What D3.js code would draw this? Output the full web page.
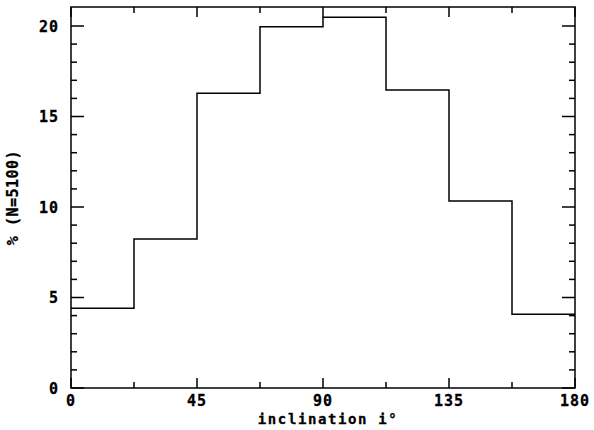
<!DOCTYPE html>
<html><head><meta charset="utf-8">
<script src="https://cdn.jsdelivr.net/npm/d3@7/dist/d3.min.js"></script>
<style>body{margin:0;background:#fff}svg{display:block}</style>
</head><body><div id="c"></div>
<script>
const binStarts = [0, 22.5, 45, 67.5, 90, 112.5, 135, 157.5];
const binWidth = 22.5;
const percents = [4.40, 8.23, 16.28, 19.96, 20.48, 16.46, 10.33, 4.07];
const xTickLabels = [0, 45, 90, 135, 180];
const yTickLabels = [0, 5, 10, 15, 20];
const xLabel = "inclination i\u00B0";
const yLabel = "% (N=5100)";

const W = 594, H = 430;
const m = {left: 71, right: 19, top: 7, bottom: 42};
const iw = W - m.left - m.right, ih = H - m.top - m.bottom;
const svg = d3.select("#c").append("svg").attr("width", W).attr("height", H);
const g = svg.append("g").attr("transform", `translate(${m.left},${m.top})`);

const x = d3.scaleLinear().domain([0, 180]).range([0, iw]);
const y = d3.scaleLinear().domain([0, 21.05]).range([ih, 0]);

const font = "'DejaVu Sans Mono', monospace";

const xMinor = d3.range(0, 180.01, 22.5);
const yMinor = d3.range(0, 21, 1);
function tickLines(sel, vals, isMajor, orient) {
  vals.forEach(v => {
    const maj = isMajor(v);
    let x1, y1, x2, y2;
    if (orient === "bottom") { const L = maj ? 10 : 6; x1 = x2 = x(v); y1 = ih; y2 = ih - L; }
    if (orient === "top") { const L = maj ? 10 : 6; x1 = x2 = x(v); y1 = 0; y2 = L; }
    if (orient === "left") { const L = maj ? 13 : 6; y1 = y2 = y(v); x1 = 0; x2 = L; }
    if (orient === "right") { const L = maj ? 13 : 6; y1 = y2 = y(v); x1 = iw; x2 = iw - L; }
    sel.append("line").attr("x1", x1).attr("y1", y1).attr("x2", x2).attr("y2", y2)
      .attr("stroke", "#000").attr("stroke-width", 1.5);
  });
}
const isMajX = v => xTickLabels.includes(v);
const isMajY = v => yTickLabels.includes(v);
tickLines(g, xMinor, isMajX, "bottom");
tickLines(g, xMinor, isMajX, "top");
tickLines(g, yMinor, isMajY, "left");
tickLines(g, yMinor, isMajY, "right");

// histogram step outline
const pts = [];
binStarts.forEach((s, i) => { pts.push([s, percents[i]]); pts.push([s + binWidth, percents[i]]); });
const line = d3.line().x(d => x(d[0])).y(d => y(d[1]));
g.append("path").attr("d", line(pts)).attr("fill", "none").attr("stroke", "#000").attr("stroke-width", 1.5);

// frame
g.append("rect").attr("width", iw).attr("height", ih).attr("fill", "none").attr("stroke", "#000").attr("stroke-width", 1.5);

const txt = s => s.attr("font-family", font).attr("font-weight", "bold")
  .attr("stroke", "#000").attr("stroke-width", 0.3).attr("fill", "#000");

txt(g.selectAll(".xl").data(xTickLabels).enter().append("text")
  .attr("x", d => x(d)).attr("y", ih + 18).attr("text-anchor", "middle")
  .attr("font-size", 15).attr("letter-spacing", 1)
  .text(d => d));
txt(g.selectAll(".yl").data(yTickLabels).enter().append("text")
  .attr("x", -12).attr("y", d => y(d) + 5.5).attr("text-anchor", "end")
  .attr("font-size", 15).attr("letter-spacing", 1)
  .text(d => d));

txt(svg.append("text").attr("x", m.left + iw / 2 + 5).attr("y", 424).attr("text-anchor", "middle")
  .attr("font-size", 14).attr("letter-spacing", 1.6)
  .text(xLabel));
txt(svg.append("text").attr("transform", `translate(18,${m.top + ih / 2}) rotate(-90)`).attr("text-anchor", "middle")
  .attr("font-size", 15).attr("letter-spacing", 0.5)
  .text(yLabel));
</script></body></html>
